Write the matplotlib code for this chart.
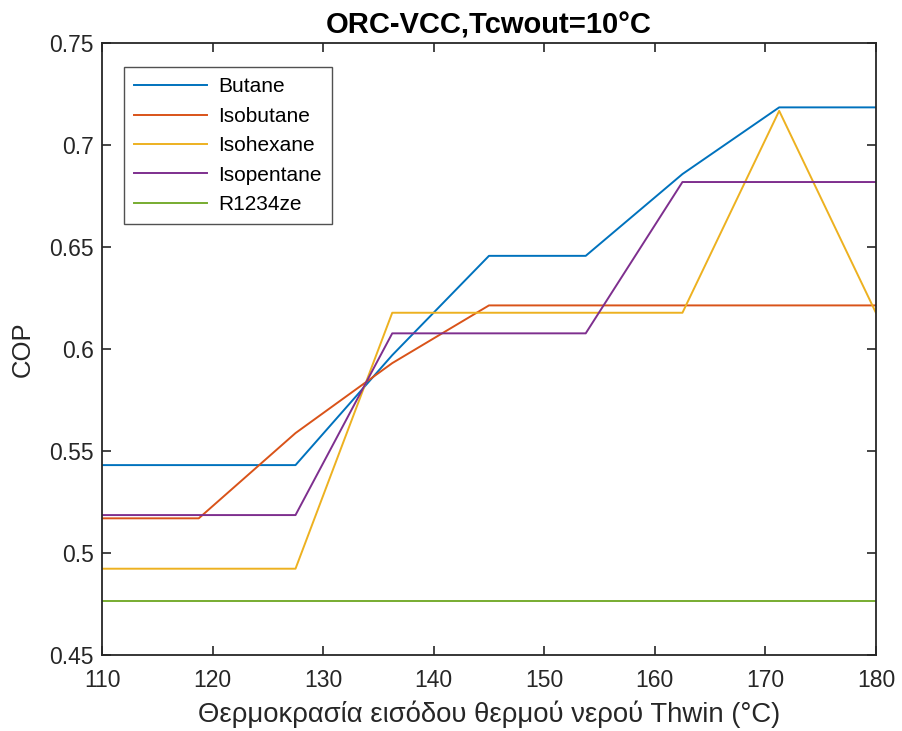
import matplotlib
matplotlib.use("Agg")
import matplotlib.pyplot as plt

plt.rcParams['font.family'] = ['Liberation Sans', 'DejaVu Sans']

# inlet hot water temperature (°C)
thwin = [110, 118.75, 127.5, 136.25, 145, 153.75, 162.5, 171.25, 180]

butane = [0.5431, 0.5431, 0.5431, 0.5970, 0.6457, 0.6457, 0.6858, 0.7185, 0.7185]
isobutane = [0.5170, 0.5170, 0.5588, 0.5931, 0.6214, 0.6214, 0.6214, 0.6214, 0.6214]
isohexane = [0.4923, 0.4923, 0.4923, 0.6178, 0.6178, 0.6178, 0.6178, 0.7168, 0.6178]
isopentane = [0.5186, 0.5186, 0.5186, 0.6077, 0.6077, 0.6077, 0.6819, 0.6819, 0.6819]
r1234ze = [0.4765, 0.4765, 0.4765, 0.4765, 0.4765, 0.4765, 0.4765, 0.4765, 0.4765]

names = ['Butane', 'Isobutane', 'Isohexane', 'Isopentane', 'R1234ze']
series = [butane, isobutane, isohexane, isopentane, r1234ze]
colors = ['#0072BD', '#D95319', '#EDB120', '#7E2F8E', '#77AC30']

fig = plt.figure(figsize=(9.03, 7.31), dpi=100)
ax = fig.add_axes([0.113, 0.104, 0.857, 0.837])

for ys, nm, c in zip(series, names, colors):
    ax.plot(thwin, ys, color=c, lw=1.4, label=nm)

ax.set_xlim(110, 180)
ax.set_ylim(0.45, 0.75)
ax.set_xticks(range(110, 181, 10))
ax.set_yticks([0.45, 0.5, 0.55, 0.6, 0.65, 0.7, 0.75])
ax.set_yticklabels(['0.45', '0.5', '0.55', '0.6', '0.65', '0.7', '0.75'])
ax.tick_params(direction='in', top=True, right=True, length=6.5, width=1.2,
               labelsize=16.5, colors='#262626')
ax.tick_params(axis='x', pad=10)
ax.tick_params(axis='y', pad=6)
for s in ax.spines.values():
    s.set_linewidth(1.3)
    s.set_color('#262626')

ax.set_xlabel('Θερμοκρασία εισόδου θερμού νερού Thwin (°C)', fontsize=19.8,
              color='#262626', labelpad=6)
ax.set_ylabel('COP', fontsize=18.5, color='#262626', labelpad=10)
ax.set_title('ORC-VCC,Tcwout=10°C', fontsize=21, fontweight='bold', pad=7)

leg = ax.legend(loc='upper left', bbox_to_anchor=(0.0284, 0.961), fontsize=15,
                fancybox=False, edgecolor='#262626', handlelength=3.5,
                handletextpad=0.5, borderpad=0.5, labelspacing=0.5,
                borderaxespad=0)
leg.get_frame().set_linewidth(1.0)

fig.savefig('out.png', dpi=100)
